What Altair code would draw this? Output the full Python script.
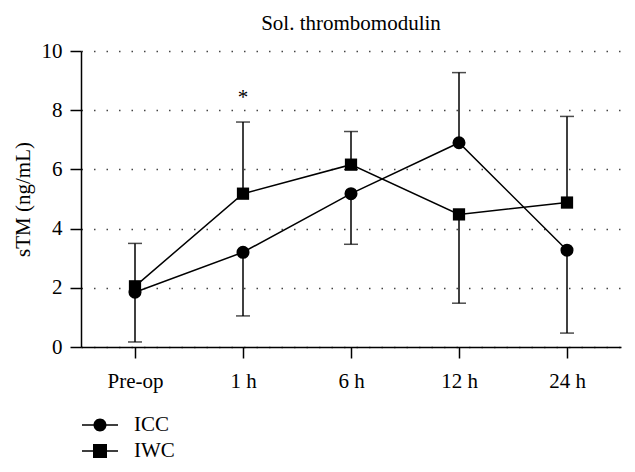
import altair as alt
import pandas as pd

# ---- data ----
times = ["Pre-op", "1 h", "6 h", "12 h", "24 h"]
groups = ["ICC", "IWC"]
icc_mean = [1.85, 3.2, 5.18, 6.9, 3.27]
iwc_mean = [2.05, 5.18, 6.16, 4.48, 4.88]
icc_err_end = [0.17, 1.05, 3.47, 9.27, 0.47]   # one-sided error bar ends
iwc_err_end = [3.5, 7.6, 7.28, 1.48, 7.79]
ann_time = ["1 h"]
ann_y = [8.4]
ann_text = ["*"]
y_ticks = [0, 2, 4, 6, 8, 10]

rows = []
for i, t in enumerate(times):
    rows.append(dict(time=t, group="ICC", mean=icc_mean[i], end=icc_err_end[i]))
    rows.append(dict(time=t, group="IWC", mean=iwc_mean[i], end=iwc_err_end[i]))
df = pd.DataFrame(rows)
ann = pd.DataFrame({"time": ann_time, "y": ann_y, "text": ann_text})

FONT = "Liberation Serif"
FS = 21

x_axis = alt.Axis(title=None, labelAngle=0, grid=False, tickSize=11, labelPadding=12)
y_axis = alt.Axis(title="sTM (ng/mL)", values=y_ticks, grid=True, tickSize=11,
                  labelPadding=8, titlePadding=8,
                  gridDash=[1.5, 11], gridColor="#444", gridWidth=1.5)
x_scale = alt.Scale(type="point", domain=times, padding=0.5)
x_enc = alt.X("time:N", sort=times, scale=x_scale, axis=x_axis)
y_scale = alt.Scale(domain=[0, 10], nice=False)


def Y(field):
    return alt.Y(field, scale=y_scale, axis=y_axis)


base = alt.Chart(df)

err = base.mark_rule(color="black", strokeWidth=1.5).encode(
    x=x_enc, y=Y("mean:Q"), y2="end:Q")
caps = base.mark_tick(color="black", thickness=1.5, size=14).encode(
    x=x_enc, y=Y("end:Q"))
lines = base.mark_line(color="black", strokeWidth=1.5).encode(
    x=x_enc, y=Y("mean:Q"), detail="group:N")
points = base.mark_point(filled=True, color="black", opacity=1).encode(
    x=x_enc, y=Y("mean:Q"),
    shape=alt.Shape("group:N", scale=alt.Scale(domain=groups, range=["circle", "square"]), legend=None),
    size=alt.Size("group:N", scale=alt.Scale(domain=groups, range=[170, 150]), legend=None))

# legend glyphs: a filled bar (the line) plus the marker; unit = 10 px (symbolSize 400)
circ_path = ("M-0.8,-0.075H2.8V0.075H-0.8Z"
             "M1.65,0A0.65,0.65,0,1,1,0.35,0A0.65,0.65,0,1,1,1.65,0Z")
sq_path = ("M-0.8,-0.075H2.8V0.075H-0.8Z"
           "M0.3,-0.7H1.7V0.7H0.3Z")

legend_layer = base.transform_filter("false").mark_point(
    filled=True, fill="black", opacity=1).encode(
    x=x_enc, y=Y("mean:Q"),
    shape=alt.Shape("group:N", title=None,
                    scale=alt.Scale(domain=groups, range=[circ_path, sq_path]),
                    legend=alt.Legend(orient="none", legendX=-2, legendY=363,
                                      symbolSize=400, rowPadding=5, labelOffset=33,
                                      labelFont=FONT, labelFontSize=FS, labelColor="black",
                                      symbolFillColor="black", symbolOpacity=1)))

star = alt.Chart(ann).mark_text(font=FONT, fontSize=FS, color="black", baseline="middle").encode(
    x=alt.X("time:N", sort=times, scale=x_scale, axis=x_axis),
    y=Y("y:Q"), text="text:N")

chart = alt.layer(err, caps, lines, points, legend_layer, star).resolve_scale(
    shape="independent"
).properties(
    width=540, height=296,
    title=alt.Title("Sol. thrombomodulin", font=FONT, fontSize=FS, fontWeight="normal",
                    anchor="middle", color="black", offset=6),
    autosize=alt.AutoSizeParams(type="none"),
    padding={"left": 73, "top": 43, "right": 6, "bottom": 117},
).configure_view(stroke=None).configure_axis(
    labelFont=FONT, titleFont=FONT, labelFontSize=FS, titleFontSize=FS,
    titleFontWeight="normal", labelColor="black", titleColor="black",
    domainColor="black", tickColor="black", domainWidth=1.5, tickWidth=1.5,
)

chart.save("out.html", embed_options={"renderer": "svg", "actions": False})
